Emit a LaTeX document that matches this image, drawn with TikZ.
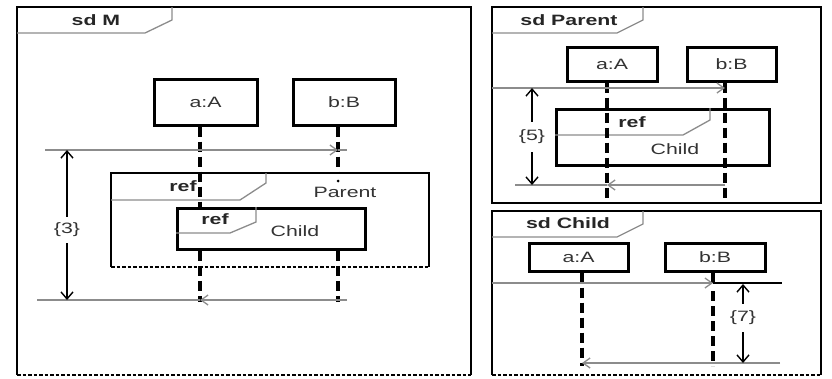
\documentclass[tikz,border=0pt]{standalone}
\usepackage{fontspec}
\setmainfont[FakeStretch=1.42]{Liberation Sans}
\usetikzlibrary{arrows.meta}
\begin{document}
\begin{tikzpicture}[x=1pt,y=-1pt,
  txt/.style={font=\fontsize{15}{17}\selectfont, text=black!80, inner sep=0pt},
  btxt/.style={font=\bfseries\fontsize{15}{17}\selectfont, text=black!85, inner sep=0pt},
  head/.style={draw, line width=3pt, inner sep=0pt, font=\fontsize{15}{17}\selectfont, text=black!80},
  life/.style={line width=3.2pt, dash pattern=on 10pt off 5pt},
  frame/.style={line width=2.8pt},
  fdash/.style={line width=2.8pt, dash pattern=on 3.5pt off 2pt},
  tab/.style={draw=black!45, line width=1.3pt},
  gline/.style={draw=black!45, line width=1.3pt},
  msg/.style={draw=black!45, line width=1.3pt, -{Straight Barb[length=7pt,width=10pt]}},
  dim/.style={line width=1.4pt, -{Straight Barb[length=7pt,width=12pt]}},
  refbox/.style={draw, fill=white, line width=2.8pt}
]
\useasboundingbox (0,0) rectangle (832,378);

% ================= sd M =================
\draw[frame] (17,375) -- (17,7) -- (471,7) -- (471,375);
\draw[fdash] (17,375) -- (471,375);
\draw[tab] (172,7) -- (172,20) -- (145,33) -- (17,33);
\node[btxt] (tM) at (96,20) {sd M};

\node[head, minimum width=103pt, minimum height=46pt] (aM) at (205.5,102) {a:A};
\node[head, minimum width=102pt, minimum height=46pt] (bM) at (344,102) {b:B};

% ref Parent
\path[fill=white] (111,173) rectangle (429,267);
\draw[frame] (111,267) -- (111,173) -- (429,173) -- (429,267);
\draw[fdash] (111,267) -- (429,267);
\draw[tab] (266,173) -- (266,183) -- (240,200) -- (111,200);
\node[btxt] (rP) at (183,186) {ref};
\node[txt] (nP) at (345,192) {Parent};

% lifelines (upper parts)
\coordinate (aMt) at ([xshift=-5.5pt]aM.south);
\coordinate (bMt) at ([xshift=-6pt]bM.south);
\draw[life] (aMt) -- (aMt |- 0,207);
\draw[life] (bMt) -- (bMt |- 0,173);
\fill (bMt |- 0,181) circle (1.5pt);

% ref Child
\node[refbox, minimum width=188pt, minimum height=41pt, anchor=north west] (cM) at (176,207) {};
\draw[tab] (256,207) -- (256,222) -- (230,233) -- (176,233);
\node[btxt] (rC) at (215,219) {ref};
\node[txt] (nC) at (295,231) {Child};

% lifelines (lower parts)
\coordinate (aMb) at (aMt |- 0,302);
\coordinate (bMb) at (bMt |- 0,302);
\draw[life] (aMt |- cM.south) -- (aMb);
\draw[life] (bMt |- cM.south) -- (bMb);

% messages
\coordinate (inM) at (45,150);
\coordinate (mB1) at (bMt |- inM);
\draw[msg] (inM) -- (mB1);
\draw[gline] (mB1) -- ++(9,0);
\coordinate (outMs) at (347,300);
\coordinate (mA1) at (aMt |- outMs);
\draw[msg] (outMs) -- (mA1);
\draw[gline] (mA1) -- (37,300);

% duration constraint
\coordinate (d3t) at (67,150);
\coordinate (d3b) at (67,300);
\node[txt] (l3) at (67,230) {\{3\}};
\draw[dim] (l3.north) ++(0,-6) -- (d3t);
\draw[dim] (l3.south) ++(0,6) -- (d3b);

% ================= sd Parent =================
\draw[frame] (492,7) rectangle (821,203);
\draw[tab] (643,7) -- (643,20) -- (617,33) -- (492,33);
\node[btxt] (tP) at (569,20) {sd Parent};

\node[head, minimum width=90pt, minimum height=34pt] (aP) at (612,64) {a:A};
\node[head, minimum width=89pt, minimum height=34pt] (bP) at (731.5,64) {b:B};

\node[refbox, minimum width=213pt, minimum height=56pt, anchor=north west] (cP) at (555,108) {};
\draw[tab] (710,108) -- (710,120) -- (683,135) -- (555,135);
\node[btxt] (rCP) at (632,122) {ref};
\node[txt] (nCP) at (675,149) {Child};

\coordinate (aPt) at ([xshift=-5pt]aP.south);
\coordinate (bPt) at ([xshift=-6.5pt]bP.south);
\draw[life] (aPt) -- (aPt |- 0,202);
\draw[life] (bPt) -- (bPt |- 0,202);

\coordinate (inP) at (492,88);
\draw[msg] (inP) -- (bPt |- inP);
\coordinate (outPs) at (725,185);
\coordinate (mA2) at (aPt |- outPs);
\draw[msg] (outPs) -- (mA2);
\draw[gline] (mA2) -- (515,185);

\coordinate (d5t) at (532,88);
\coordinate (d5b) at (532,185);
\node[txt] (l5) at (532,137) {\{5\}};
\draw[dim] (l5.north) ++(0,-8) -- (d5t);
\draw[dim] (l5.south) ++(0,8) -- (d5b);

% ================= sd Child =================
\draw[frame] (492,375) -- (492,211) -- (821,211) -- (821,375);
\draw[fdash] (492,375) -- (821,375);
\draw[tab] (643,211) -- (643,224) -- (617,237) -- (492,237);
\node[btxt] (tC) at (568,223) {sd Child};

\node[head, minimum width=99pt, minimum height=28pt] (aC) at (578.5,257) {a:A};
\node[head, minimum width=100pt, minimum height=28pt] (bC) at (715,257) {b:B};

\coordinate (aCt) at ([xshift=3.5pt]aC.south);
\coordinate (bCt) at ([xshift=-2pt]bC.south);
\coordinate (inC) at (492,283);
\coordinate (mB3) at (bCt |- inC);
\draw[line width=3.2pt] (bCt) -- (mB3);
\draw[life] (aCt) -- (aCt |- 0,366);
\draw[life] (bCt |- 0,291) -- (bCt |- 0,366);
\draw[msg] (inC) -- (mB3);
\coordinate (thE) at (782,283);
\draw[line width=2.8pt] (mB3) -- (thE);

\coordinate (outCs) at (780,363);
\draw[msg] (outCs) -- (aCt |- outCs);

\coordinate (d7t) at (743,284);
\coordinate (d7b) at (743,363);
\node[txt] (l7) at (743,318) {\{7\}};
\draw[dim] (l7.north) ++(0,-7) -- (d7t);
\draw[dim] (l7.south) ++(0,7) -- (d7b);

\end{tikzpicture}
\end{document}
